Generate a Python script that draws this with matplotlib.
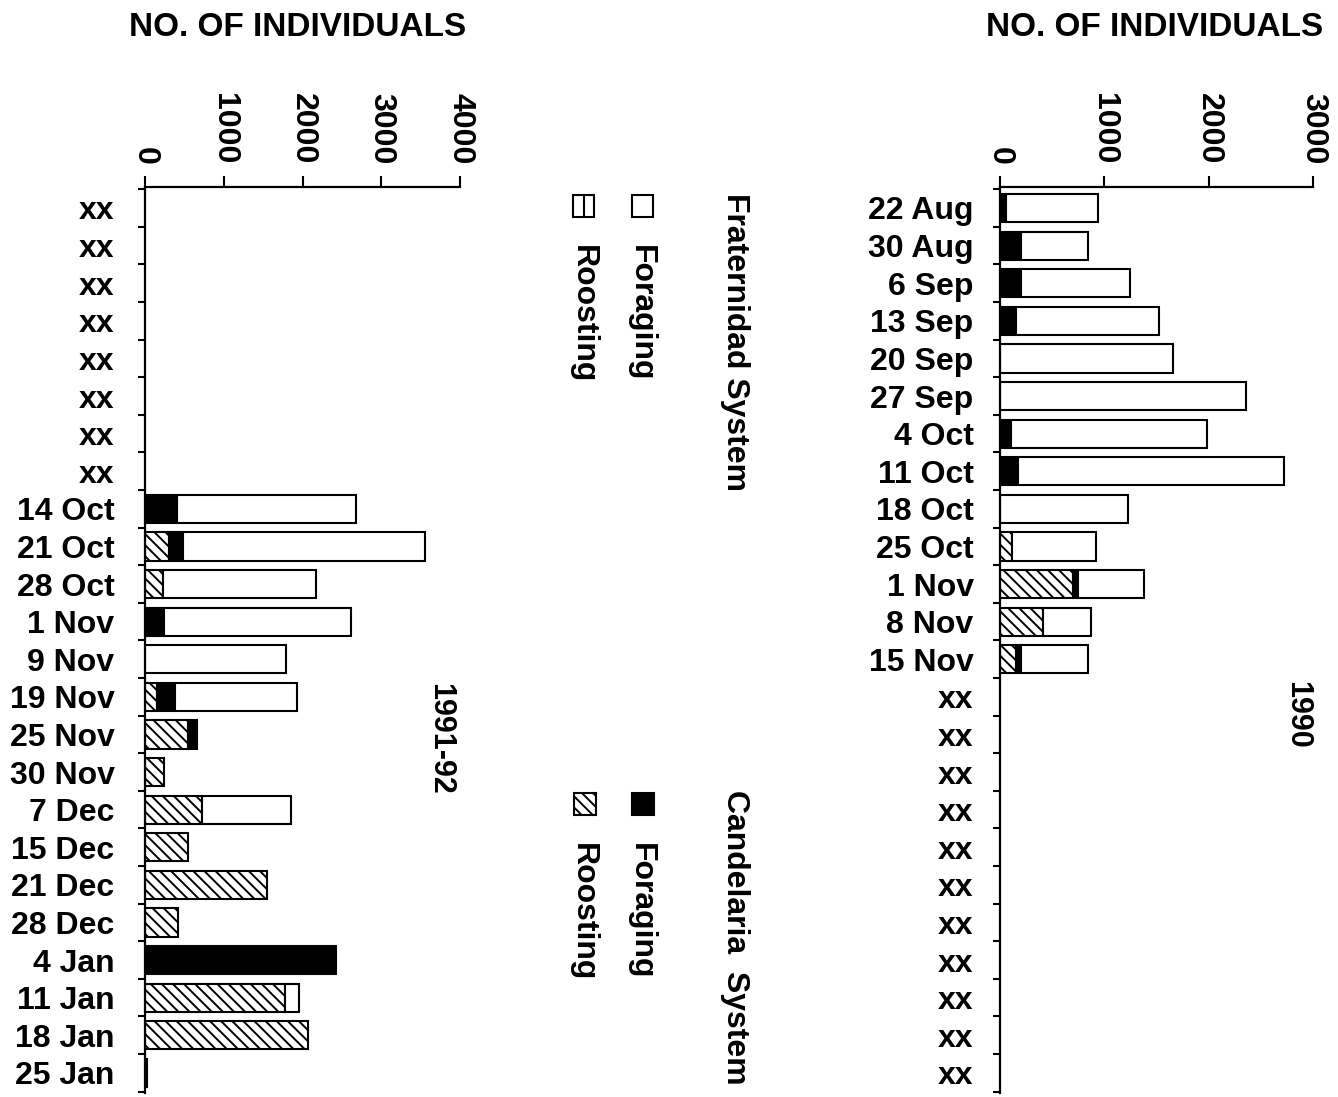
import matplotlib

matplotlib.use("Agg")
import matplotlib.pyplot as plt
import numpy as np
from matplotlib.patches import Rectangle

plt.rcParams["font.family"] = ["Liberation Sans", "DejaVu Sans"]
plt.rcParams["font.weight"] = "bold"
plt.rcParams["hatch.linewidth"] = 1.4

# 1991-92 season (left panel)
dates_91 = ["xx"] * 8 + [
    "14 Oct", "21 Oct", "28 Oct", "1 Nov", "9 Nov", "19 Nov", "25 Nov", "30 Nov",
    "7 Dec", "15 Dec", "21 Dec", "28 Dec", "4 Jan", "11 Jan", "18 Jan", "25 Jan",
]
cand_roost_91 = [0] * 8 + [0, 305, 230, 0, 0, 150, 545, 235, 725, 545, 1550, 420, 0, 1780, 2070, 0]
cand_forage_91 = [0] * 8 + [405, 180, 0, 240, 0, 230, 110, 0, 0, 0, 0, 0, 2430, 0, 0, 0]
frat_forage_91 = [0] * 8 + [2275, 3075, 1945, 2375, 1790, 1550, 0, 0, 1130, 0, 0, 0, 0, 180, 0, 25]
frat_roost_91 = [0] * 24

# 1990 season (right panel)
dates_90 = [
    "22 Aug", "30 Aug", "6 Sep", "13 Sep", "20 Sep", "27 Sep", "4 Oct", "11 Oct",
    "18 Oct", "25 Oct", "1 Nov", "8 Nov", "15 Nov",
] + ["xx"] * 11
cand_roost_90 = [0, 0, 0, 0, 0, 0, 0, 0, 0, 115, 695, 410, 150] + [0] * 11
cand_forage_90 = [60, 205, 205, 150, 0, 0, 105, 175, 0, 0, 50, 0, 55] + [0] * 11
frat_forage_90 = [875, 640, 1040, 1375, 1660, 2360, 1875, 2545, 1230, 805, 635, 460, 640] + [0] * 11
frat_roost_90 = [0] * 24

W, H = 1338, 1097
HATCH = "\\\\\\"


def draw_panel(ax, labels, series, xmax, label_pad):
    y = np.arange(len(labels))
    left = np.zeros(len(labels))
    for values, face, hatch in series:
        values = np.asarray(values, dtype=float)
        mask = values > 0
        ax.barh(y[mask], values[mask], left=left[mask], height=0.75, color=face,
                edgecolor="black", hatch=hatch, linewidth=1.5, zorder=2)
        left += values

    ax.set_xlim(0, xmax)
    ax.set_ylim(23.537, -0.5585)
    ax.xaxis.tick_top()
    ax.set_xticks(np.arange(0, xmax + 1, 1000))
    ax.tick_params(axis="x", direction="out", length=8, width=1.5, pad=8,
                   labelsize=23, labelrotation=-90)
    ax.set_yticks(y)
    ax.set_yticklabels(labels)
    ax.set_yticks(np.arange(-0.5, len(labels)), minor=True)
    ax.tick_params(axis="y", which="major", length=0, pad=label_pad, labelsize=23)
    ax.tick_params(axis="y", which="minor", length=5, width=1.5, direction="out")
    for side in ("right", "bottom"):
        ax.spines[side].set_visible(False)
    for side in ("top", "left"):
        ax.spines[side].set_linewidth(1.6)
    ax.set_facecolor("none")


fig = plt.figure(figsize=(W / 100, H / 100), dpi=100)

ax_l = fig.add_axes([145 / W, 1 - 1093 / H, 315 / W, 906 / H])
draw_panel(ax_l, dates_91, [
    (cand_roost_91, "white", HATCH),
    (cand_forage_91, "black", None),
    (frat_forage_91, "white", None),
    (frat_roost_91, "white", "|"),
], 4000, 22)

ax_r = fig.add_axes([1000 / W, 1 - 1093 / H, 313 / W, 906 / H])
draw_panel(ax_r, dates_90, [
    (cand_roost_90, "white", HATCH),
    (cand_forage_90, "black", None),
    (frat_forage_90, "white", None),
    (frat_roost_90, "white", "|"),
], 3000, 19)

# overlay in pixel coordinates for titles and legend
ov = fig.add_axes([0, 0, 1, 1])
ov.set_xlim(0, W)
ov.set_ylim(H, 0)
ov.axis("off")

ov.text(298, 27, "NO. OF INDIVIDUALS", ha="center", va="center", fontsize=24)
ov.text(1155, 27, "NO. OF INDIVIDUALS", ha="center", va="center", fontsize=24)
ov.text(440, 683, "1991-92", rotation=-90, ha="center", va="top", fontsize=22)
ov.text(1297, 681, "1990", rotation=-90, ha="center", va="top", fontsize=22)

vert = dict(rotation=-90, ha="center", va="top", fontsize=23)
ov.text(735, 193, "Fraternidad System", **vert)
ov.text(641, 245, "Foraging", **vert)
ov.text(583, 245, "Roosting", **vert)
ov.text(735, 790, "Candelaria  System", **vert)
ov.text(641, 843, "Foraging", **vert)
ov.text(583, 843, "Roosting", **vert)

ov.add_patch(Rectangle((632, 195), 21, 22, facecolor="white", edgecolor="black", lw=1.5))
ov.add_patch(Rectangle((573, 195), 21, 22, facecolor="white", edgecolor="black", lw=1.5))
ov.plot([583.5, 583.5], [195, 217], color="black", lw=1.5)
ov.add_patch(Rectangle((632, 793), 22, 22, facecolor="black", edgecolor="black", lw=1.5))
ov.add_patch(Rectangle((574, 793), 22, 22, facecolor="white", edgecolor="black", lw=1.5, hatch=HATCH))

fig.savefig("out.png", dpi=100)
